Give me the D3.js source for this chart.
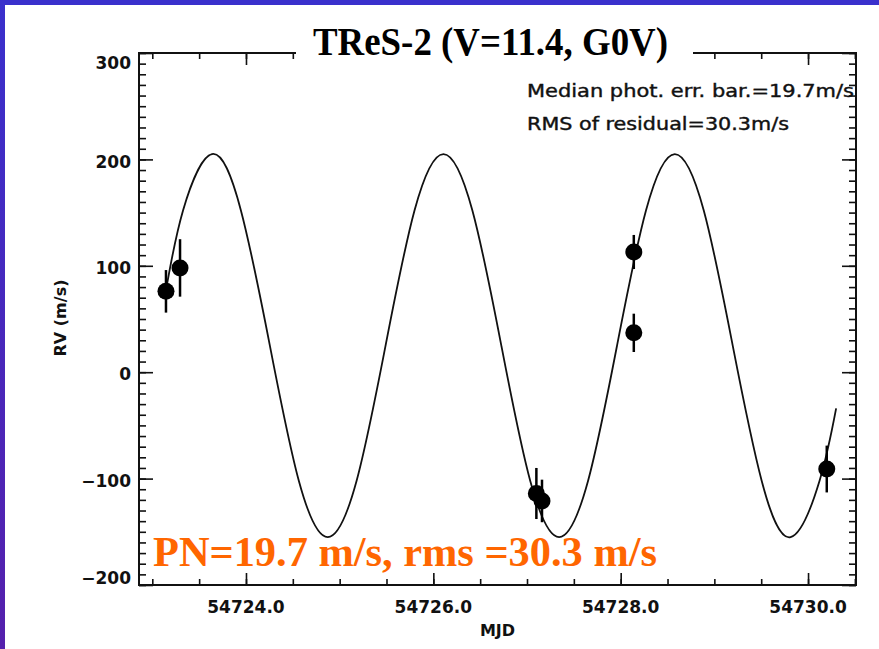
<!DOCTYPE html>
<html>
<head>
<meta charset="utf-8">
<script src="https://cdn.jsdelivr.net/npm/d3@7"></script>
<style>
  body { margin: 0; background: #fff; }
  svg { display: block; }
</style>
</head>
<body>
<div class="chart-container"></div>
<script>
var width = 879;
var height = 649;

// RV measurements (MJD, m/s) with error bars
var obsMJD = [54723.146, 54723.296, 54727.10, 54727.16, 54728.14, 54728.14, 54730.20];
var obsRV = [76, 98, -114, -121, 113, 37, -91];
var obsErr = [20, 27, 24, 20, 16, 18, 22];

// orbit model, every 1/8 period
var modelMJD = [54723.146, 54723.328, 54723.637, 54723.946, 54724.255, 54724.564, 54724.873,
  54725.181, 54725.490, 54725.799, 54726.108, 54726.417, 54726.726, 54727.034, 54727.343,
  54727.652, 54727.961, 54728.270, 54728.578, 54728.887, 54729.196, 54729.505, 54729.814,
  54730.123, 54730.300];
var modelRV = [77, 152, 205, 152, 25, -102, -155, -102, 25, 152, 205, 152, 25, -102, -155,
  -102, 25, 152, 205, 152, 25, -102, -155, -102, -34];

var xMajorTicks = [54724, 54726, 54728, 54730];
var xTickLabels = ["54724.0", "54726.0", "54728.0", "54730.0"];
var xMinorTicks = d3.range(54723, 54730.6, 0.5);
var yMajorTicks = [-200, -100, 0, 100, 200, 300];
var yTickLabels = ["\u2212200", "\u2212100", "0", "100", "200", "300"];
var yMinorTicks = d3.range(-200, 301, 10);

var title = "TReS-2 (V=11.4, G0V)";
var notes = ["Median phot. err. bar.=19.7m/s", "RMS of residual=30.3m/s"];
var callout = "PN=19.7 m/s, rms =30.3 m/s";

var plot = { left: 139, right: 856, top: 53, bottom: 585 };

var svg = d3
  .select(".chart-container")
  .append("svg")
  .attr("width", width)
  .attr("height", height);

// slide border (blue strip top and left)
var grad = svg.append("defs").append("linearGradient")
  .attr("id", "leftbar").attr("x1", 0).attr("y1", 0).attr("x2", 0).attr("y2", 1);
grad.append("stop").attr("offset", "0%").attr("stop-color", "#3a30cc");
grad.append("stop").attr("offset", "100%").attr("stop-color", "#5520ac");

svg.append("rect").attr("x", 0).attr("y", 0).attr("width", width).attr("height", 5).attr("fill", "#3a30cc");
svg.append("rect").attr("x", 0).attr("y", 0).attr("width", 5).attr("height", height).attr("fill", "url(#leftbar)");

var x = d3.scaleLinear().domain([54722.858, 54730.512]).range([plot.left, plot.right]);
var y = d3.scaleLinear().domain([-200, 300]).range([plot.bottom, plot.top]);

// ticks on all four sides, pointing inward
function drawTicks(axis, tx, ty) {
  var g = svg.append("g").attr("transform", `translate(${tx},${ty})`).call(axis);
  g.select(".domain").remove();
  g.selectAll("text").remove();
  g.selectAll("line").attr("stroke", "#111").attr("stroke-width", 1.6);
  return g;
}

drawTicks(d3.axisBottom(x).tickValues(xMinorTicks).tickSize(-6), 0, plot.bottom);
drawTicks(d3.axisBottom(x).tickValues(xMajorTicks).tickSize(-12), 0, plot.bottom);
drawTicks(d3.axisTop(x).tickValues(xMinorTicks).tickSize(-6), 0, plot.top);
drawTicks(d3.axisTop(x).tickValues(xMajorTicks).tickSize(-12), 0, plot.top);
drawTicks(d3.axisLeft(y).tickValues(yMinorTicks).tickSize(-7), plot.left, 0);
drawTicks(d3.axisLeft(y).tickValues(yMajorTicks).tickSize(-14), plot.left, 0);
drawTicks(d3.axisRight(y).tickValues(yMinorTicks).tickSize(-7), plot.right, 0);
drawTicks(d3.axisRight(y).tickValues(yMajorTicks).tickSize(-14), plot.right, 0);

// frame
svg.append("rect")
  .attr("x", plot.left).attr("y", plot.top)
  .attr("width", plot.right - plot.left).attr("height", plot.bottom - plot.top)
  .attr("fill", "none").attr("stroke", "#111").attr("stroke-width", 2);

// tick labels
svg.append("g").selectAll("text")
  .data(yMajorTicks)
  .enter()
  .append("text")
  .attr("x", plot.left - 8)
  .attr("y", (d) => Math.max(plot.top + 10, Math.min(plot.bottom - 7, y(d) + 2)))
  .attr("dy", "0.36em")
  .attr("text-anchor", "end")
  .attr("font-family", "DejaVu Sans, sans-serif")
  .attr("font-weight", "bold")
  .attr("font-size", "17px")
  .attr("fill", "#111")
  .text((d, i) => yTickLabels[i]);

svg.append("g").selectAll("text")
  .data(xMajorTicks)
  .enter()
  .append("text")
  .attr("x", (d) => x(d))
  .attr("y", plot.bottom + 22)
  .attr("dy", "0.36em")
  .attr("text-anchor", "middle")
  .attr("font-family", "DejaVu Sans, sans-serif")
  .attr("font-weight", "bold")
  .attr("font-size", "17px")
  .attr("fill", "#111")
  .text((d, i) => xTickLabels[i]);

// axis titles
svg.append("text")
  .attr("x", (plot.left + plot.right) / 2)
  .attr("y", 630)
  .attr("dy", "0.36em")
  .attr("text-anchor", "middle")
  .attr("font-family", "DejaVu Sans, sans-serif")
  .attr("font-weight", "bold")
  .attr("font-size", "16px")
  .attr("fill", "#111")
  .text("MJD");

svg.append("text")
  .attr("transform", "translate(60,318) rotate(-90)")
  .attr("dy", "0.36em")
  .attr("text-anchor", "middle")
  .attr("font-family", "DejaVu Sans, sans-serif")
  .attr("font-weight", "bold")
  .attr("font-size", "16px")
  .attr("fill", "#111")
  .text("RV (m/s)");

// model curve
var model = modelMJD.map((t, i) => [t, modelRV[i]]);
var line = d3.line()
  .x((d) => x(d[0]))
  .y((d) => y(d[1]))
  .curve(d3.curveNatural);

svg.append("path")
  .datum(model)
  .attr("d", line)
  .attr("fill", "none")
  .attr("stroke", "#111")
  .attr("stroke-width", 1.8);

// data points with error bars
var obs = obsMJD.map((t, i) => ({ t: t, rv: obsRV[i], err: obsErr[i] }));

svg.append("g").selectAll("line")
  .data(obs)
  .enter()
  .append("line")
  .attr("x1", (d) => x(d.t)).attr("x2", (d) => x(d.t))
  .attr("y1", (d) => y(d.rv + d.err)).attr("y2", (d) => y(d.rv - d.err))
  .attr("stroke", "#000")
  .attr("stroke-width", 2.5);

svg.append("g").selectAll("circle")
  .data(obs)
  .enter()
  .append("circle")
  .attr("cx", (d) => x(d.t))
  .attr("cy", (d) => y(d.rv))
  .attr("r", 8.5)
  .attr("fill", "#000");

// annotations top right
svg.append("g").selectAll("text")
  .data(notes)
  .enter()
  .append("text")
  .attr("x", 527)
  .attr("y", (d, i) => 97 + i * 33)
  .attr("font-family", "DejaVu Sans, sans-serif")
  .attr("font-size", "17px")
  .attr("fill", "#111")
  .attr("stroke", "#111")
  .attr("stroke-width", 0.4)
  .attr("textLength", (d, i) => [327, 262][i])
  .attr("lengthAdjust", "spacingAndGlyphs")
  .text((d) => d);

// white box behind the title, hides the top frame there
svg.append("rect")
  .attr("x", 296).attr("y", 5)
  .attr("width", 397).attr("height", 62)
  .attr("fill", "#fff");

svg.append("text")
  .attr("x", 313)
  .attr("y", 55)
  .attr("font-family", "Liberation Serif, Times New Roman, serif")
  .attr("font-weight", "bold")
  .attr("font-size", "39px")
  .attr("fill", "#000")
  .attr("textLength", 355)
  .attr("lengthAdjust", "spacingAndGlyphs")
  .text(title);

svg.append("text")
  .attr("x", 153)
  .attr("y", 566)
  .attr("font-family", "Liberation Serif, Times New Roman, serif")
  .attr("font-weight", "bold")
  .attr("font-size", "43px")
  .attr("fill", "#ff6600")
  .attr("textLength", 504)
  .attr("lengthAdjust", "spacingAndGlyphs")
  .text(callout);
</script>
</body>
</html>
